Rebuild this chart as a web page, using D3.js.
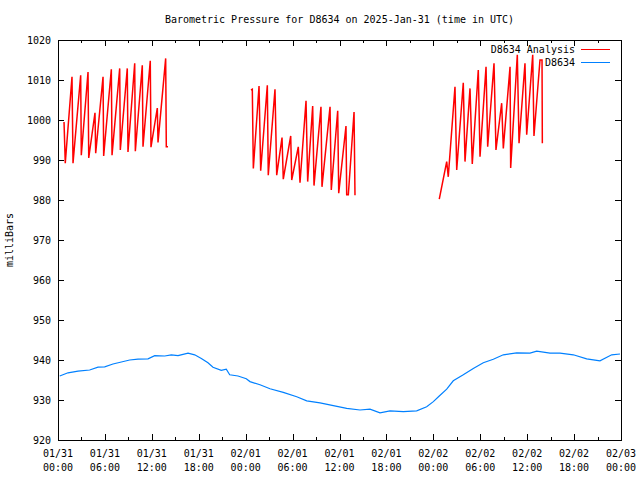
<!DOCTYPE html>
<html><head><meta charset="utf-8">
<script src="https://cdn.jsdelivr.net/npm/d3@7"></script>
<style>
body{margin:0;background:#fff;}
text{font-family:"DejaVu Sans Mono","Liberation Mono",monospace;font-size:10px;fill:#000;}
</style></head><body>
<svg id="chart" width="640" height="480"></svg>
<script>
// ---- data (hours since 2025-01-31 00:00 UTC) ----
const titleText = "Barometric Pressure for D8634 on 2025-Jan-31 (time in UTC)";
const yLabel = "milliBars";
const seriesNames = ["D8634 Analysis", "D8634"];
const yTicks = [920, 930, 940, 950, 960, 970, 980, 990, 1000, 1010, 1020];

const analysisSeg1Hours = [0.77,0.93,1.79,1.92,2.90,2.98,3.84,3.93,4.73,4.82,5.76,5.84,6.82,6.91,7.89,7.97,8.86,8.95,9.81,9.89,10.78,10.87,11.80,11.89,12.70,12.79,13.77,13.85,14.07];
const analysisSeg1Values = [999.5,989.2,1010.8,989.2,1011.2,991.2,1012.0,990.5,1001.8,991.7,1010.8,991.0,1012.7,991.2,1012.9,992.5,1012.9,992.0,1014.2,992.2,1013.7,993.3,1014.8,993.2,1003.0,994.4,1015.4,993.3,993.3];

const analysisSeg2Hours = [24.68,24.85,24.98,25.71,25.92,26.77,26.89,27.75,27.97,28.65,28.81,29.76,29.89,30.73,30.95,31.72,31.93,32.57,32.74,33.63,33.76,34.79,34.95,35.77,35.90,36.83,36.92,37.13,37.86,37.98];
const analysisSeg2Values = [1007.5,1007.7,987.9,1008.5,987.3,1008.7,986.2,1007.7,986.2,995.6,985.2,996.0,985.0,993.3,984.3,1004.8,984.6,1003.5,983.6,1003.3,983.3,1003.3,982.5,1002.3,981.7,998.5,981.3,981.3,1002.0,981.2];

const analysisSeg3Hours = [48.76,49.71,49.91,50.77,50.99,51.83,52.05,52.69,52.98,53.75,53.97,54.74,54.95,55.76,56.01,56.74,56.95,57.81,57.89,58.74,58.96,59.72,59.94,60.71,60.87,61.64,61.90,61.94];
const analysisSeg3Values = [980.2,989.6,985.8,1008.3,987.5,1009.3,989.6,1007.9,989.0,1012.5,990.8,1013.3,993.3,1014.2,992.5,1004.2,992.9,1013.3,988.0,1016.3,994.2,1014.2,996.3,1016.3,996.0,1015.0,1015.0,994.2];

const obsHours = [0.22,1.28,2.56,4.05,5.12,5.97,7.03,8.10,9.17,10.23,11.51,12.37,13.65,14.49,15.35,16.63,17.48,18.33,19.18,19.82,20.88,21.52,21.96,23.02,24.08,24.55,25.83,27.11,28.81,30.53,31.81,33.51,35.21,36.92,38.62,39.90,41.18,42.46,44.16,45.87,47.15,48.00,48.76,49.71,50.55,51.83,53.11,54.39,55.67,56.95,58.66,60.36,61.22,62.92,64.20,65.90,67.61,69.31,70.81,71.87];
const obsValues = [936.0,936.8,937.2,937.5,938.2,938.3,939.0,939.5,940.0,940.2,940.3,941.1,941.0,941.3,941.1,941.7,941.3,940.4,939.3,938.2,937.4,937.7,936.3,936.0,935.3,934.6,933.8,932.8,931.9,930.8,929.8,929.3,928.6,927.9,927.5,927.7,926.8,927.3,927.1,927.3,928.3,929.6,931.0,932.7,934.8,936.3,937.9,939.3,940.2,941.3,941.8,941.7,942.2,941.7,941.7,941.3,940.3,939.8,941.3,941.5];

// ---- layout ----
const L = 58, R = 621, T = 40, B = 440;
const t0 = new Date(Date.UTC(2025, 0, 31, 0, 0));
const t1 = new Date(Date.UTC(2025, 1, 3, 0, 0));
const toDate = h => new Date(t0.getTime() + h * 3600000);

const svg = d3.select("#chart");
const x = d3.scaleUtc().domain([t0, t1]).range([L, R]);
const y = d3.scaleLinear().domain([920, 1020]).range([B, T]);

// title
svg.append("text").attr("x", (L + R) / 2).attr("y", 23).attr("text-anchor", "middle").text(titleText);
// y label
svg.append("text").attr("transform", "translate(13,240) rotate(-90)").attr("text-anchor", "middle").text(yLabel);

const g = svg.append("g").attr("shape-rendering", "crispEdges");

// ticks
const majorX = d3.utcHour.every(6).range(t0, new Date(t1.getTime() + 1));
const minorX = d3.utcHour.every(3).range(t0, new Date(t1.getTime() + 1)).filter(d => d.getUTCHours() % 6 !== 0);
const fmtD = d3.utcFormat("%m/%d"), fmtT = d3.utcFormat("%H:%M");

majorX.forEach(d => {
  const px = Math.round(x(d)) + 0.5;
  g.append("line").attr("x1", px).attr("x2", px).attr("y1", B).attr("y2", B - 6).attr("stroke", "#000");
  g.append("line").attr("x1", px).attr("x2", px).attr("y1", T).attr("y2", T + 6).attr("stroke", "#000");
  svg.append("text").attr("x", x(d)).attr("y", 457).attr("text-anchor", "middle").text(fmtD(d));
  svg.append("text").attr("x", x(d)).attr("y", 471).attr("text-anchor", "middle").text(fmtT(d));
});
minorX.forEach(d => {
  const px = Math.round(x(d)) + 0.5;
  g.append("line").attr("x1", px).attr("x2", px).attr("y1", B).attr("y2", B - 3).attr("stroke", "#000");
  g.append("line").attr("x1", px).attr("x2", px).attr("y1", T).attr("y2", T + 3).attr("stroke", "#000");
});
yTicks.forEach(v => {
  const py = Math.round(y(v)) + 0.5;
  g.append("line").attr("x1", L).attr("x2", L + 6).attr("y1", py).attr("y2", py).attr("stroke", "#000");
  g.append("line").attr("x1", R).attr("x2", R - 6).attr("y1", py).attr("y2", py).attr("stroke", "#000");
  svg.append("text").attr("x", 51).attr("y", y(v) + 4).attr("text-anchor", "end").text(v);
});

// border
g.append("rect").attr("x", L + 0.5).attr("y", T + 0.5).attr("width", R - L).attr("height", B - T)
  .attr("fill", "none").attr("stroke", "#000");

// lines
const line = d3.line().x(d => x(toDate(d[0]))).y(d => y(d[1]));
const zip = (a, b) => a.map((h, i) => [h, b[i]]);
[[analysisSeg1Hours, analysisSeg1Values], [analysisSeg2Hours, analysisSeg2Values], [analysisSeg3Hours, analysisSeg3Values]]
  .forEach(([h, v]) => {
    svg.append("path").attr("d", line(zip(h, v))).attr("fill", "none").attr("stroke", "#ff0000").attr("stroke-width", 1.5);
  });
svg.append("path").attr("d", line(zip(obsHours, obsValues))).attr("fill", "none").attr("stroke", "#0080ff").attr("stroke-width", 1.2);

// legend
const colors = ["#ff0000", "#0080ff"];
seriesNames.forEach((n, i) => {
  const ly = 49 + i * 13;
  svg.append("text").attr("x", 575).attr("y", ly + 4).attr("text-anchor", "end").text(n);
  svg.append("line").attr("x1", 581).attr("x2", 610).attr("y1", ly + 0.5).attr("y2", ly + 0.5)
    .attr("stroke", colors[i]).attr("shape-rendering", "crispEdges");
});
</script>
</body></html>
